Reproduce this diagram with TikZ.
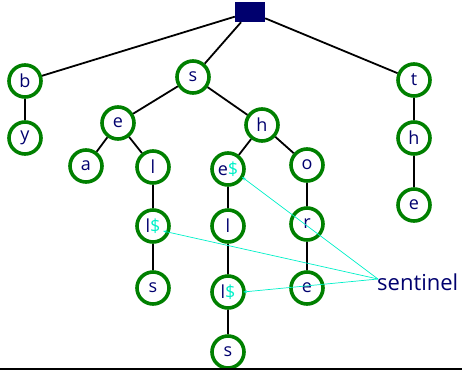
\documentclass[tikz,border=0pt]{standalone}
\usepackage{fontspec}
\setmainfont{Open Sans}
\usetikzlibrary{arrows.meta}
\definecolor{navy}{RGB}{0,0,110}
\definecolor{tgreen}{RGB}{0,128,0}
\definecolor{aqua}{RGB}{0,240,200}
\begin{document}
\begin{tikzpicture}[x=1pt,y=-1pt,
  tn/.style={circle,draw=tgreen,line width=3.6pt,minimum size=32pt,inner sep=0pt,text=navy,font=\fontsize{18}{20}\selectfont},
  edge/.style={line width=1.8pt,black},
  sent/.style={aqua,line width=0.7pt,-{Stealth[length=4pt,width=3pt]}}]
\useasboundingbox (0,0) rectangle (462,370);
\node[fill=navy,minimum width=30pt,minimum height=20pt,inner sep=0pt] (root) at (250,12) {};
\node[tn] (b) at (25,81) {b};
\node[tn] (y) at (25,138) {y};
\node[tn] (s) at (193,77) {s};
\node[tn] (e) at (118,123) {e};
\node[tn] (h) at (262,125) {h};
\node[tn] (a) at (86,166) {a};
\node[tn] (l1) at (153,167) {l};
\node[tn] (l1d) at (153,226) {l\textcolor{aqua}{\$}};
\node[tn] (s1) at (153,288) {s};
\node[tn] (ed) at (228,169) {e\textcolor{aqua}{\$}};
\node[tn] (l2) at (228,226) {l};
\node[tn] (l2d) at (228,292) {l\textcolor{aqua}{\$}};
\node[tn] (s2) at (228,352) {s};
\node[tn] (o) at (307,165) {o};
\node[tn] (r) at (307,224) {r};
\node[tn] (e2) at (307,288) {e};
\node[tn] (t) at (414,80) {t};
\node[tn] (th) at (414,138) {h};
\node[tn] (te) at (414,205) {e};
\node[text=navy,font=\fontsize{22}{24}\selectfont,anchor=west,inner sep=0pt] (sen) at (377,282) {sentinel};
\coordinate (sp) at (378,279);
\draw[edge] (root) -- (b);
\draw[edge] (root) -- (s);
\draw[edge] (root) -- (t);
\draw[edge] (b) -- (y);
\draw[edge] (s) -- (e);
\draw[edge] (s) -- (h);
\draw[edge] (e) -- (a);
\draw[edge] (e) -- (l1);
\draw[edge] (l1) -- (l1d);
\draw[edge] (l1d) -- (s1);
\draw[edge] (h) -- (ed);
\draw[edge] (h) -- (o);
\draw[edge] (ed) -- (l2);
\draw[edge] (l2) -- (l2d);
\draw[edge] (l2d) -- (s2);
\draw[edge] (o) -- (r);
\draw[edge] (r) -- (e2);
\draw[edge] (t) -- (th);
\draw[edge] (th) -- (te);
\draw[sent] (sp) -- (242,177);
\draw[sent] (sp) -- (163,231);
\draw[sent] (sp) -- (243,292);
\draw[line width=1.2pt] (0,369) -- (462,369);
\end{tikzpicture}
\end{document}
